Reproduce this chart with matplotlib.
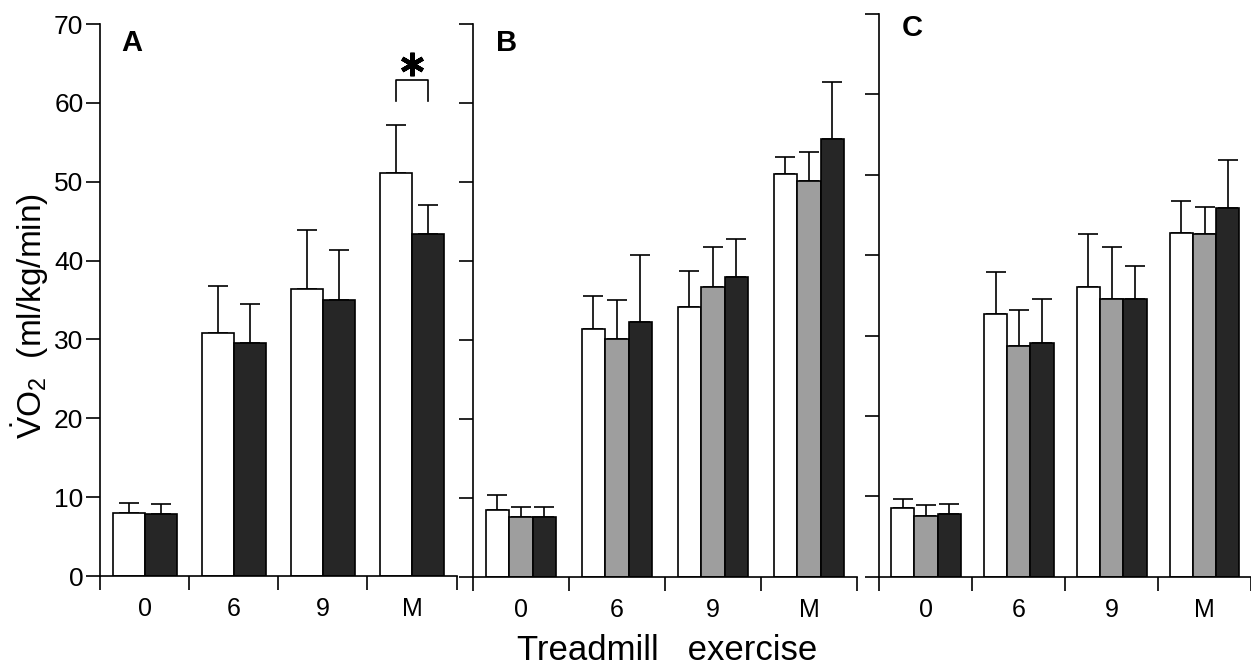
import numpy as np
import matplotlib
matplotlib.use("Agg")
import matplotlib.pyplot as plt

plt.rcParams['font.family'] = ['Liberation Sans', 'DejaVu Sans']
plt.rcParams['mathtext.fontset'] = 'custom'
plt.rcParams['mathtext.rm'] = 'Liberation Sans'
plt.rcParams['mathtext.it'] = 'Liberation Sans'

categories = ["0", "6", "9", "M"]

# panel A: two groups
a_white = [8.0, 30.8, 36.4, 51.1]
a_white_sd = [1.25, 6.0, 7.5, 6.1]
a_black = [7.9, 29.5, 35.0, 43.4]
a_black_sd = [1.2, 5.0, 6.3, 3.7]

# panel B: three groups
b_white = [8.5, 31.4, 34.2, 51.0]
b_white_sd = [1.9, 4.2, 4.5, 2.1]
b_gray = [7.5, 30.1, 36.7, 50.1]
b_gray_sd = [1.3, 4.9, 5.0, 3.7]
b_black = [7.6, 32.2, 37.9, 55.5]
b_black_sd = [1.2, 8.5, 4.9, 7.1]

# panel C: three groups
c_white = [8.6, 32.7, 36.0, 42.8]
c_white_sd = [1.1, 5.2, 6.6, 3.9]
c_gray = [7.6, 28.7, 34.6, 42.6]
c_gray_sd = [1.3, 4.5, 6.4, 3.4]
c_black = [7.8, 29.1, 34.6, 45.9]
c_black_sd = [1.3, 5.5, 4.0, 6.0]

WHITE = "#ffffff"
GRAY = "#9e9e9e"
BLACK = "#262626"
LW = 1.2

fig = plt.figure(figsize=(12.51, 6.65), dpi=100)


def draw_panel(ax, series, width, letter, show_labels, letter_y=0.965):
    x = np.arange(len(categories))
    n = len(series)
    offsets = (np.arange(n) - (n - 1) / 2) * width
    for (vals, sds, color), off in zip(series, offsets):
        ax.bar(x + off, vals, width, color=color, edgecolor="black",
               linewidth=LW, zorder=2)
        ax.errorbar(x + off, vals, yerr=[np.zeros(len(vals)), sds],
                    fmt="none", ecolor="black", elinewidth=LW,
                    capsize=7, capthick=LW, zorder=1)
    ax.set_xlim(-0.5, len(categories) - 0.5)
    ax.set_ylim(0, 70)
    for s in ["top", "right"]:
        ax.spines[s].set_visible(False)
    ax.spines["left"].set_linewidth(LW)
    ax.spines["bottom"].set_linewidth(LW)
    ax.set_yticks(np.arange(0, 71, 10))
    ax.tick_params(axis="y", direction="out", length=10, width=LW, pad=2,
                   labelsize=19, labelleft=show_labels)
    ax.set_xticks(np.arange(len(categories) + 1) - 0.5)
    ax.set_xticklabels([])
    ax.tick_params(axis="x", which="major", direction="out", length=10, width=LW)
    ax.set_xticks(x, minor=True)
    ax.set_xticklabels(categories, minor=True)
    ax.tick_params(axis="x", which="minor", length=0, pad=15, labelsize=18)
    ax.text(0.06, letter_y, letter, transform=ax.transAxes, fontsize=21,
            fontweight="bold", va="center", ha="left")
    return x, offsets


ax_a = fig.add_axes([0.080, 0.1338, 0.285, 0.830])
x_a, off_a = draw_panel(ax_a, [(a_white, a_white_sd, WHITE),
                               (a_black, a_black_sd, BLACK)],
                        0.36, "A", True)

# significance bracket at M
top = max(a_white[3] + a_white_sd[3], a_black[3] + a_black_sd[3])
y0, y1 = top + 3.0, top + 5.7
xl, xr = x_a[3] + off_a[0], x_a[3] + off_a[1]
ax_a.plot([xl, xl, xr, xr], [y0, y1, y1, y0], color="black", lw=LW,
          clip_on=False)
ax_a.plot([(xl + xr) / 2], [y1 + 2.0], marker=(6, 2, 0), markersize=17,
          markeredgewidth=3.2, color="black", clip_on=False)

ax_b = fig.add_axes([0.378, 0.1328, 0.307, 0.831])
draw_panel(ax_b, [(b_white, b_white_sd, WHITE),
                  (b_gray, b_gray_sd, GRAY),
                  (b_black, b_black_sd, BLACK)],
           0.245, "B", False)

ax_c = fig.add_axes([0.703, 0.1328, 0.297, 0.846])
draw_panel(ax_c, [(c_white, c_white_sd, WHITE),
                  (c_gray, c_gray_sd, GRAY),
                  (c_black, c_black_sd, BLACK)],
           0.25, "C", False, letter_y=0.975)

fig.text(30 / 1251, 1 - 316 / 665, r"$\mathrm{\dot{V}O_2}$  (ml/kg/min)",
         rotation=90, ha="center", va="center", fontsize=24)
fig.text(667 / 1251, 1 - 650 / 665, "Treadmill   exercise", ha="center",
         va="center", fontsize=25)

fig.savefig("out.png", dpi=100)
plt.close(fig)
